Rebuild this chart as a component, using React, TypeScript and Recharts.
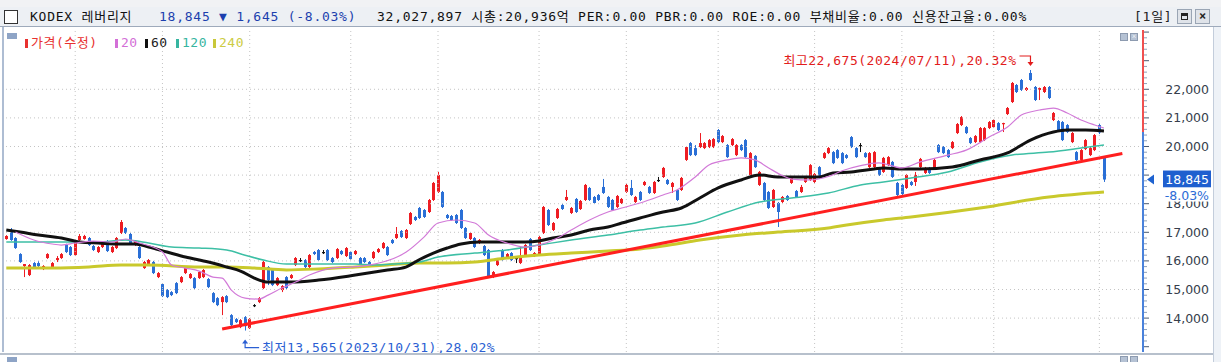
import React from "react";
import { ComposedChart, Bar, Line, XAxis, YAxis, ReferenceLine, ReferenceDot } from "recharts";

const W = 1221;
const H = 362;
const PLOT_TOP = 30;
const PLOT_BOTTOM = 352;
const PLOT_LEFT = 4;
const AXIS_W = 78;
const Y_MIN = 12815;
const Y_MAX = 24073;
const PAD_SLOTS = 8;

// [open, high, low, close]
const OHLC: [number, number, number, number][] = [
  [16765, 16900, 16740, 16870], [17080, 17150, 16700, 16730], [16800, 16830, 16420, 16450], [16240, 16270, 15930, 15960],
  [15820, 15890, 15435, 15890], [15505, 15890, 15470, 15855], [15925, 15960, 15720, 15750], [15925, 15995, 15750, 15820],
  [15715, 15850, 15680, 15820], [16100, 16270, 16070, 16240], [15750, 15960, 15720, 15925], [16030, 16170, 15960, 16100],
  [16100, 16275, 16070, 16240], [16555, 16600, 16275, 16310], [16485, 16520, 16170, 16205], [16205, 16730, 16170, 16695],
  [16730, 16940, 16700, 16870], [16765, 16910, 16740, 16870], [16800, 16835, 16520, 16555], [16520, 16555, 16345, 16380],
  [16310, 16520, 16275, 16485], [16485, 16660, 16450, 16625], [16695, 16730, 16310, 16345], [16310, 16520, 16275, 16485],
  [16450, 16835, 16415, 16800], [16975, 17430, 16940, 17360], [17150, 17185, 16940, 16975], [16940, 16975, 16590, 16625],
  [16555, 16730, 16520, 16695], [16485, 16520, 16065, 16100], [15750, 16000, 15720, 15960], [15890, 16065, 15855, 16030],
  [15960, 16000, 15540, 15575], [15435, 15610, 15400, 15575], [15190, 15225, 14735, 14770], [14980, 15015, 14700, 14735],
  [14910, 14945, 14770, 14805], [15225, 15260, 14840, 14875], [15260, 15470, 15225, 15435], [15575, 15785, 15540, 15750],
  [15400, 15575, 15370, 15540], [15400, 15435, 15015, 15050], [15400, 15645, 15370, 15610], [15435, 15715, 15400, 15680],
  [15365, 15400, 15050, 15085], [14875, 14910, 14525, 14560], [14700, 14735, 14420, 14455], [14560, 14770, 14105, 14735],
  [14770, 14805, 14525, 14560], [14105, 14140, 13720, 13755], [13965, 14000, 13830, 13860], [13685, 13965, 13650, 13930],
  [14035, 14070, 13565, 13720], [13650, 14000, 13620, 13965], [14455, 14490, 14385, 14455], [14560, 14735, 14525, 14700],
  [15050, 16000, 15015, 15960], [15785, 15820, 15155, 15330], [15680, 15715, 15120, 15155], [15155, 15435, 15120, 15400],
  [14980, 15155, 14910, 15120], [15435, 15470, 15015, 15050], [15400, 15540, 15370, 15505], [15855, 16135, 15820, 16100],
  [16030, 16100, 15960, 16030], [16030, 16065, 15750, 15785], [15785, 16240, 15750, 16205], [16310, 16345, 16205, 16240],
  [16380, 16415, 15995, 16030], [16310, 16380, 16240, 16310], [16380, 16415, 15995, 16030], [16100, 16135, 15925, 15960],
  [16100, 16450, 16065, 16415], [16345, 16380, 16205, 16240], [16170, 16485, 16135, 16450], [16310, 16345, 16030, 16065],
  [16240, 16380, 16205, 16345], [16100, 16135, 15855, 15890], [16100, 16135, 15925, 15960], [15960, 15995, 15785, 15820],
  [16100, 16345, 16065, 16310], [16310, 16450, 16275, 16415], [16450, 16660, 16415, 16625], [16485, 16520, 16170, 16205],
  [16730, 16765, 16590, 16625], [16800, 17185, 16765, 16940], [17045, 17080, 16800, 16835], [16800, 17115, 16765, 17080],
  [17290, 17710, 17255, 17675], [17535, 17570, 17395, 17430], [17850, 17885, 17465, 17500], [17780, 17815, 17500, 17535],
  [17710, 18165, 17675, 18130], [18130, 18760, 18095, 18725], [18410, 19110, 18375, 19005], [18410, 18445, 17850, 17885],
  [17605, 17640, 17465, 17500], [17570, 17605, 17395, 17430], [17605, 17640, 17290, 17325], [17780, 17815, 17115, 17150],
  [17150, 17185, 16765, 16800], [16765, 17010, 16730, 16975], [16800, 16835, 16450, 16485], [16625, 16765, 16590, 16730],
  [16520, 16555, 16170, 16205], [16380, 16415, 15400, 15435], [15470, 15645, 15400, 15610], [15855, 16065, 15820, 16030],
  [16380, 16415, 15995, 16030], [16135, 16275, 16100, 16240], [16275, 16310, 15995, 16030], [16100, 16135, 15925, 16100],
  [15925, 16485, 15890, 16135], [16205, 16590, 16170, 16555], [16765, 16800, 16345, 16380], [16170, 16310, 16135, 16275],
  [16205, 16870, 16170, 16835], [16975, 17920, 16940, 17885], [17780, 17815, 17220, 17255], [17080, 17360, 17045, 17325],
  [17500, 17850, 17465, 17815], [17955, 17990, 17780, 17815], [18130, 18480, 18095, 18235], [17675, 17885, 17640, 17850],
  [18165, 18200, 17675, 17710], [17815, 18130, 17780, 18095], [18130, 18690, 18095, 18655], [18550, 18585, 18095, 18130],
  [18235, 18270, 17990, 18025], [18305, 18340, 18095, 18130], [18585, 18865, 18340, 18375], [18235, 18270, 17850, 17885],
  [18130, 18165, 17745, 17780], [17885, 18305, 17850, 18270], [18025, 18200, 17990, 18165], [18410, 18690, 18375, 18655],
  [18550, 18830, 18270, 18305], [18060, 18270, 18025, 18235], [18410, 18445, 18095, 18130], [18655, 18795, 18620, 18760],
  [18585, 18620, 18340, 18375], [18375, 18795, 18340, 18760], [18830, 18935, 18760, 18830], [18935, 19285, 18900, 19250],
  [18830, 18865, 18655, 18690], [18585, 18760, 18375, 18725], [18480, 18515, 18095, 18130], [18480, 18935, 18445, 18900],
  [19530, 20015, 19495, 19980], [20120, 20155, 19665, 19700], [19945, 20050, 19665, 19700], [19980, 20470, 19945, 20120],
  [19945, 20155, 19910, 20120], [19980, 20260, 19945, 20225], [19980, 20295, 19945, 20260], [20575, 20610, 20120, 20155],
  [20155, 20400, 20120, 20365], [20050, 20085, 19600, 19630], [20050, 20295, 20015, 20260], [19700, 20085, 19665, 20050],
  [20050, 20085, 19840, 19875], [20225, 20260, 19600, 19630], [19005, 19805, 18970, 19770], [19670, 19700, 19250, 19280],
  [18655, 19145, 18620, 19110], [18725, 18760, 18095, 18130], [18410, 18445, 17815, 17850], [17885, 18515, 17850, 18480],
  [18025, 18060, 17185, 17710], [18060, 18270, 18025, 18235], [18270, 18305, 18095, 18130], [18725, 18970, 18690, 18935],
  [18445, 18480, 18200, 18235], [18410, 18655, 18375, 18585], [18760, 18970, 18725, 18935], [18830, 19385, 18795, 19350],
  [18760, 19075, 18725, 19040], [19280, 19315, 18865, 18900], [19600, 19805, 19565, 19770], [19770, 19980, 19735, 19945],
  [19805, 19840, 19385, 19420], [19875, 19910, 19565, 19600], [19770, 19805, 19385, 19420], [19700, 19735, 19565, 19600],
  [20330, 20365, 19945, 19980], [19945, 19980, 19600, 19630], [20050, 20120, 19805, 20050], [19770, 19805, 19600, 19630],
  [19280, 19805, 19250, 19770], [19280, 19840, 19250, 19805], [19250, 19285, 18970, 19005], [19110, 19635, 19075, 19600],
  [19350, 19665, 19315, 19630], [19460, 19495, 18900, 18935], [18725, 18760, 18270, 18305], [18655, 18690, 18305, 18340],
  [18550, 19040, 18515, 19005], [18760, 18795, 18620, 18655], [18760, 19110, 18620, 19005], [19280, 19600, 19250, 19565],
  [19075, 19285, 19040, 19250], [19250, 19285, 19040, 19075], [19250, 19565, 19215, 19530], [20050, 20085, 19770, 19805],
  [19980, 20015, 19735, 19770], [19875, 19910, 19600, 19630], [19945, 20190, 19910, 20155], [20470, 20820, 20435, 20785],
  [20750, 21065, 20715, 21030], [20680, 20715, 20435, 20470], [20295, 20330, 20085, 20120], [20155, 20400, 20120, 20365],
  [20155, 20680, 20120, 20645], [20225, 20680, 20190, 20645], [20645, 20890, 20610, 20855], [20680, 20960, 20645, 20925],
  [20820, 20855, 20540, 20575], [20785, 20830, 20505, 20820], [21135, 21380, 21100, 21345], [21555, 22255, 21520, 22220],
  [22150, 22185, 21870, 21905], [22325, 22360, 21940, 21975], [21975, 22080, 21940, 22045], [22570, 22675, 22290, 22325],
  [22080, 22115, 21590, 21625], [21975, 22060, 21625, 22045], [21905, 22115, 21870, 22080], [22080, 22115, 21660, 21695],
  [20925, 21205, 20890, 21170], [20890, 20925, 20540, 20575], [20855, 20890, 20190, 20225], [20750, 20785, 20470, 20505],
  [20155, 20505, 20120, 20470], [19805, 19840, 19495, 19530], [19530, 19910, 19495, 19875], [19910, 20260, 19875, 20225],
  [19700, 19980, 19665, 19945], [19875, 20435, 19840, 20400], [20750, 20785, 20435, 20490], [19600, 19630, 18760, 18845],
];

// moving averages: [candle index, value]
const MA20: [number, number][] = [
  [2, 17010], [6, 16730], [10, 16590], [12, 16555], [15, 16625], [19, 16695], [23, 16660], [26, 16765], [29, 16625],
  [34, 16310], [36, 15855], [39, 15750], [42, 15645], [45, 15435], [47, 15400], [49, 14980], [52, 14700], [55, 14665],
  [57, 14805], [60, 15050], [63, 15260], [66, 15505], [71, 15750], [75, 15785], [79, 15855], [82, 15960], [87, 16300],
  [91, 16840], [94, 17325], [98, 17430], [102, 17325], [105, 16905], [109, 16625], [113, 16485], [116, 16555],
  [120, 16800], [123, 17080], [127, 17430], [131, 17710], [134, 17850], [138, 18025], [143, 18305], [146, 18480],
  [150, 18935], [153, 19355], [157, 19530], [160, 19600], [163, 19530], [166, 19250], [169, 18980], [171, 18860],
  [175, 18830], [179, 18950], [182, 19150], [186, 19330], [190, 19425], [195, 19250], [199, 19460], [205, 19700],
  [209, 19875], [214, 20330], [218, 20680], [221, 21100], [225, 21275], [228, 21345], [231, 21170], [234, 20925],
  [237, 20750], [239, 20645],
];
const MA60: [number, number][] = [
  [0, 17080], [3, 17010], [7, 16905], [12, 16800], [16, 16660], [20, 16625], [25, 16590], [28, 16590], [31, 16485],
  [35, 16310], [39, 16135], [44, 15960], [48, 15785], [51, 15645], [54, 15400], [57, 15260], [62, 15260], [68, 15330],
  [76, 15505], [83, 15680], [87, 15785], [90, 16050], [93, 16275], [96, 16450], [99, 16590], [103, 16660], [113, 16660],
  [116, 16695], [119, 16800], [123, 16905], [127, 17080], [131, 17185], [134, 17325], [138, 17500], [143, 17710],
  [147, 17850], [151, 18200], [155, 18550], [160, 18830], [164, 19005], [168, 18935], [173, 18935], [177, 18935],
  [180, 19075], [184, 19110], [189, 19215], [191, 19250], [195, 19215], [199, 19215], [206, 19285], [212, 19530],
  [218, 19775], [223, 20225], [228, 20505], [231, 20575], [235, 20575], [239, 20540],
];
const MA120: [number, number][] = [
  [0, 16660], [6, 16660], [13, 16660], [20, 16660], [26, 16730], [31, 16625], [36, 16485], [42, 16450], [48, 16380],
  [52, 16200], [56, 16030], [61, 15890], [68, 15890], [76, 15890], [80, 15855], [84, 15890], [90, 15960], [94, 16135],
  [102, 16275], [109, 16380], [116, 16555], [123, 16730], [131, 16905], [138, 17080], [143, 17185], [150, 17325],
  [157, 17710], [164, 18060], [171, 18200], [179, 18375], [186, 18655], [191, 18760], [197, 18900], [205, 19110],
  [212, 19460], [219, 19700], [227, 19805], [234, 19945], [239, 20050],
];
const MA240: [number, number][] = [
  [0, 15755], [10, 15755], [18, 15790], [25, 15860], [31, 15860], [42, 15790], [48, 15790], [54, 15755], [61, 15685],
  [68, 15720], [76, 15790], [83, 15860], [90, 15930], [96, 15930], [102, 15965], [109, 16100], [116, 16205],
  [123, 16275], [131, 16345], [138, 16420], [143, 16520], [151, 16730], [160, 16905], [168, 17010], [179, 17150],
  [183, 17255], [191, 17430], [197, 17535], [212, 17850], [227, 18235], [239, 18410],
];

const MONTH_STARTS = [15, 34, 53, 75, 94, 116, 135, 155, 176, 195, 215, 238];
const PRICE_TICKS = [14000, 15000, 16000, 17000, 18000, 19000, 20000, 21000, 22000];
const PREV_CLOSE = 20490;
const LAST_CLOSE = 18845;
const HIGH_MARK = { idx: 223, value: 22675, date: "2024/07/11" };
const LOW_MARK = { idx: 52, value: 13565, date: "2023/10/31" };
const TREND = [
  { idx: 47, value: 13620 },
  { idx: 243, value: 19755 },
];

const UP = "#ee1d23";
const DOWN = "#2a6fd6";
const FLAT = "#111111";
const TXT_FONT = "'DejaVu Sans Mono', 'Noto Sans CJK KR', monospace";

const MINOR_TICKS: number[] = [];
for (let v = 13000; v <= 24000; v += 200) MINOR_TICKS.push(v);
// the current-price tag is drawn by the last tick so it sits on top of the labels
const AXIS_TICKS = [...MINOR_TICKS, LAST_CLOSE];

const fmt = (n: number) => n.toLocaleString("en-US");

const m20 = new Map(MA20);
const m60 = new Map(MA60);
const m120 = new Map(MA120);
const m240 = new Map(MA240);

const data = Array.from({ length: OHLC.length + PAD_SLOTS }, (_, i) => {
  const c = OHLC[i];
  return {
    i,
    range: c ? [c[2], c[1]] : null,
    o: c ? c[0] : null,
    h: c ? c[1] : null,
    l: c ? c[2] : null,
    c: c ? c[3] : null,
    ma20: m20.get(i) ?? null,
    ma60: m60.get(i) ?? null,
    ma120: m120.get(i) ?? null,
    ma240: m240.get(i) ?? null,
  };
});

const Candle = (props: any) => {
  const { x, y, width, height, payload } = props;
  if (!payload || payload.o == null) return null;
  const { o, h, l, c } = payload;
  const top = Math.min(y, y + height);
  const bot = Math.max(y, y + height);
  const span = h - l;
  const py = (v: number) => (span > 0 ? top + ((h - v) / span) * (bot - top) : top);
  const color = c > o ? UP : c < o ? DOWN : FLAT;
  const rx = Math.round(x + width / 2 - 1.5);
  const bt = py(Math.max(o, c));
  const bb = py(Math.min(o, c));
  return (
    <g>
      <line x1={rx + 1.5} x2={rx + 1.5} y1={top} y2={bot} stroke={color} strokeWidth={1} />
      <rect x={rx} y={bt} width={3} height={Math.max(1.2, bb - bt)} fill={color} />
    </g>
  );
};

const PriceTag = ({ x0, y }: { x0: number; y: number }) => {
  const pct = ((LAST_CLOSE - PREV_CLOSE) / PREV_CLOSE) * 100;
  return (
    <g>
      <polygon points={`${x0 + 4},${y} ${x0 + 11},${y - 5} ${x0 + 11},${y + 5}`} fill="#1e62d0" />
      <rect x={x0 + 20} y={y - 9} width={48} height={17} fill="#1f5fcf" />
      <text x={x0 + 66} y={y + 4.5} textAnchor="end" fontFamily="'DejaVu Sans', sans-serif" fontSize={12.5} fill="#fff">
        {fmt(LAST_CLOSE)}
      </text>
      <rect x={x0 + 20} y={y + 8} width={48} height={14} fill="#fff" />
      <text x={x0 + 66} y={y + 20} textAnchor="end" fontFamily="'DejaVu Sans', sans-serif" fontSize={12.5} fill="#2b6bd6">
        {pct.toFixed(2)}%
      </text>
    </g>
  );
};

const YTick = (props: any) => {
  const { x, y, payload } = props;
  const v = payload.value;
  if (v === LAST_CLOSE) return <PriceTag x0={x} y={y} />;
  const major = v % 1000 === 0;
  return (
    <g>
      <line x1={x + 1} x2={x + (major ? 6 : 4)} y1={y} y2={y} stroke={major ? "#4a5a70" : "#8fa0b8"} strokeWidth={1} />
      {PRICE_TICKS.includes(v) && (
        <text x={x + 66} y={y + 4.5} textAnchor="end" fontFamily="'DejaVu Sans', sans-serif" fontSize={12.5} fill="#363e4c">
          {fmt(v)}
        </text>
      )}
    </g>
  );
};

const HighMark = (props: any) => {
  const { cx, cy } = props;
  const pct = ((HIGH_MARK.value - LAST_CLOSE) / LAST_CLOSE) * 100;
  const col = "#e21c1c";
  return (
    <g>
      <text x={cx - 14} y={cy - 5} textAnchor="end" fontFamily={TXT_FONT} fontSize={13} letterSpacing={0.5} fill={col}>
        {`최고${fmt(HIGH_MARK.value)}(${HIGH_MARK.date}),${pct.toFixed(2)}%`}
      </text>
      <path d={`M${cx - 11},${cy - 14} H${cx} V${cy - 7}`} stroke={col} strokeWidth={1.2} fill="none" />
      <polygon points={`${cx - 3},${cy - 8} ${cx + 3},${cy - 8} ${cx},${cy - 4}`} fill={col} />
    </g>
  );
};

const LowMark = (props: any) => {
  const { cx, cy } = props;
  const pct = ((LAST_CLOSE - LOW_MARK.value) / LAST_CLOSE) * 100;
  const col = "#2b5fd3";
  return (
    <g>
      <polygon points={`${cx - 3},${cy + 13} ${cx + 3},${cy + 13} ${cx},${cy + 9}`} fill={col} />
      <path d={`M${cx},${cy + 12} V${cy + 17} H${cx + 14}`} stroke={col} strokeWidth={1.2} fill="none" />
      <text x={cx + 17} y={cy + 21} fontFamily={TXT_FONT} fontSize={13} letterSpacing={0.5} fill={col}>
        {`최저${fmt(LOW_MARK.value)}(${LOW_MARK.date}),${pct.toFixed(2)}%`}
      </text>
    </g>
  );
};

const LEGEND = [
  { label: "가격(수정)", color: "#e8312f", text: "#e8312f", left: 25 },
  { label: "20", color: "#d36fd7", text: "#d36fd7", left: 115 },
  { label: "60", color: "#111", text: "#222", left: 145 },
  { label: "120", color: "#36b5a0", text: "#36b5a0", left: 176 },
  { label: "240", color: "#c8c83a", text: "#cccc44", left: 213 },
];

export default function App() {
  const pct = ((LAST_CLOSE - PREV_CLOSE) / PREV_CLOSE) * 100;
  const split = (Y_MAX - PREV_CLOSE) / (Y_MAX - Y_MIN);
  return (
    <div style={{ position: "absolute", left: 0, top: 0, width: W, height: H, background: "#fff", overflow: "hidden" }}>
      <div style={{ position: "absolute", left: 0, top: 0 }}>
        <ComposedChart
          width={W}
          height={H}
          data={data}
          margin={{ top: PLOT_TOP, right: 0, bottom: H - PLOT_BOTTOM, left: PLOT_LEFT }}
        >
          <defs>
            <linearGradient id="axisGrad" gradientUnits="userSpaceOnUse" x1="0" y1={PLOT_TOP} x2="0" y2={PLOT_BOTTOM}>
              <stop offset={split} stopColor="#f05050" />
              <stop offset={split} stopColor="#4a82dc" />
            </linearGradient>
          </defs>
          <XAxis dataKey="i" hide />
          <YAxis
            orientation="right"
            type="number"
            width={AXIS_W}
            domain={[Y_MIN, Y_MAX]}
            allowDataOverflow
            ticks={AXIS_TICKS}
            interval={0}
            tickSize={0}
            tickMargin={0}
            tickLine={false}
            axisLine={{ stroke: "url(#axisGrad)", strokeWidth: 2 }}
            tick={<YTick />}
          />
          {PRICE_TICKS.map((v) => (
            <ReferenceLine key={`h${v}`} y={v} stroke="#c4c4c4" strokeDasharray="1 3" />
          ))}
          {MONTH_STARTS.map((v) => (
            <ReferenceLine key={`v${v}`} x={v} stroke="#c4c4c4" strokeDasharray="1 3" />
          ))}
          <Line dataKey="ma240" type="monotone" connectNulls dot={false} stroke="#c9c92c" strokeWidth={3} isAnimationActive={false} />
          <Line dataKey="ma120" type="monotone" connectNulls dot={false} stroke="#3dbfa5" strokeWidth={1.5} isAnimationActive={false} />
          <Line dataKey="ma60" type="monotone" connectNulls dot={false} stroke="#111" strokeWidth={3} isAnimationActive={false} />
          <Line dataKey="ma20" type="monotone" connectNulls dot={false} stroke="#d27ad8" strokeWidth={1.2} isAnimationActive={false} />
          <Bar dataKey="range" barSize={3} shape={<Candle />} isAnimationActive={false} />
          <ReferenceLine
            segment={[
              { x: TREND[0].idx, y: TREND[0].value },
              { x: TREND[1].idx, y: TREND[1].value },
            ]}
            stroke="#ff1f1f"
            strokeWidth={3}
          />
          <ReferenceDot x={HIGH_MARK.idx} y={HIGH_MARK.value} shape={(p: any) => <HighMark {...p} />} />
          <ReferenceDot x={LOW_MARK.idx} y={LOW_MARK.value} shape={(p: any) => <LowMark {...p} />} />
        </ComposedChart>
      </div>

      {/* toolbar remnants */}
      <div style={{ position: "absolute", left: 0, top: 0, width: W, height: 7, background: "#f1f2f4", borderBottom: "1px solid #b9c0ca" }} />
      {/* header bar */}
      <div
        style={{
          position: "absolute", left: 0, top: 7, width: W, height: 20, boxSizing: "border-box",
          background: "#edf0f4", borderBottom: "1px solid #9eaabb", fontFamily: TXT_FONT, fontSize: 13,
          letterSpacing: 0.75, lineHeight: "19px", whiteSpace: "nowrap",
        }}
      >
        <div style={{ position: "absolute", left: 4, top: 3, width: 12, height: 12, background: "#fff", border: "1px solid #333" }} />
        <span style={{ position: "absolute", left: 30, top: 0, color: "#111" }}>KODEX 레버리지</span>
        <span style={{ position: "absolute", left: 159, top: 0, color: "#1c3fae" }}>
          {`${fmt(LAST_CLOSE)} ▼ ${fmt(PREV_CLOSE - LAST_CLOSE)} (${pct.toFixed(2)}%)`}
        </span>
        <span style={{ position: "absolute", left: 377, top: 0, color: "#111" }}>
          32,027,897 시총:20,936억 PER:0.00 PBR:0.00 ROE:0.00 부채비율:0.00 신용잔고율:0.00%
        </span>
        <span style={{ position: "absolute", left: 1134, top: 0, color: "#222" }}>[1일]</span>
        <div style={{ position: "absolute", left: 1177, top: 2, width: 15, height: 15, background: "#dfe3e9", border: "1px solid #9aa5b4", boxSizing: "border-box" }}>
          <div style={{ position: "absolute", left: 3, top: 3, width: 7, height: 7, border: "1px solid #222", borderTopWidth: 3, boxSizing: "border-box" }} />
        </div>
        <div style={{ position: "absolute", left: 1195, top: 2, width: 15, height: 15, background: "#dfe3e9", border: "1px solid #9aa5b4", boxSizing: "border-box", fontSize: 12, lineHeight: "13px", textAlign: "center", fontWeight: 700, color: "#222", letterSpacing: 0 }}>
          ×
        </div>
      </div>

      {/* legend */}
      <div style={{ position: "absolute", left: 7, top: 33, width: 10, height: 6, background: "#8ea4c6" }} />
      {LEGEND.map((e) => (
        <div key={e.label} style={{ position: "absolute", left: e.left, top: 35, height: 16, whiteSpace: "nowrap", fontFamily: TXT_FONT, fontSize: 13, letterSpacing: 0.5, lineHeight: "16px", color: e.text }}>
          <span style={{ display: "inline-block", width: 3, height: 9, background: e.color, marginRight: 3, verticalAlign: "-1px" }} />
          {e.label}
        </div>
      ))}

      {/* chart corner icons */}
      <div style={{ position: "absolute", left: 1120, top: 33, width: 8, height: 8, background: "#b5c2d4", border: "1px solid #8d9bb0", boxSizing: "border-box" }} />
      <div style={{ position: "absolute", left: 1130, top: 33, width: 8, height: 8, background: "#b5c2d4", border: "1px solid #8d9bb0", boxSizing: "border-box", fontSize: 8, lineHeight: "6px", textAlign: "center", color: "#fff" }}>×</div>

      {/* frame lines */}
      <div style={{ position: "absolute", left: 2, top: 27, width: 2, height: PLOT_BOTTOM - 27, background: "#aebdd3" }} />
      <div style={{ position: "absolute", left: 1213, top: 27, width: 8, height: H - 27, background: "#eef2f7", borderLeft: "1px solid #c3cddb" }} />
      <div style={{ position: "absolute", left: 0, top: PLOT_BOTTOM + 1, width: 1213, height: 2, background: "#b7c0cc" }} />
      <div style={{ position: "absolute", left: 7, top: 357, width: 10, height: 6, background: "#8ea4c6" }} />
      <div style={{ position: "absolute", left: 1120, top: 356, width: 8, height: 8, background: "#b5c2d4", border: "1px solid #8d9bb0", boxSizing: "border-box" }} />
      <div style={{ position: "absolute", left: 1130, top: 356, width: 8, height: 8, background: "#b5c2d4", border: "1px solid #8d9bb0", boxSizing: "border-box" }} />
    </div>
  );
}
